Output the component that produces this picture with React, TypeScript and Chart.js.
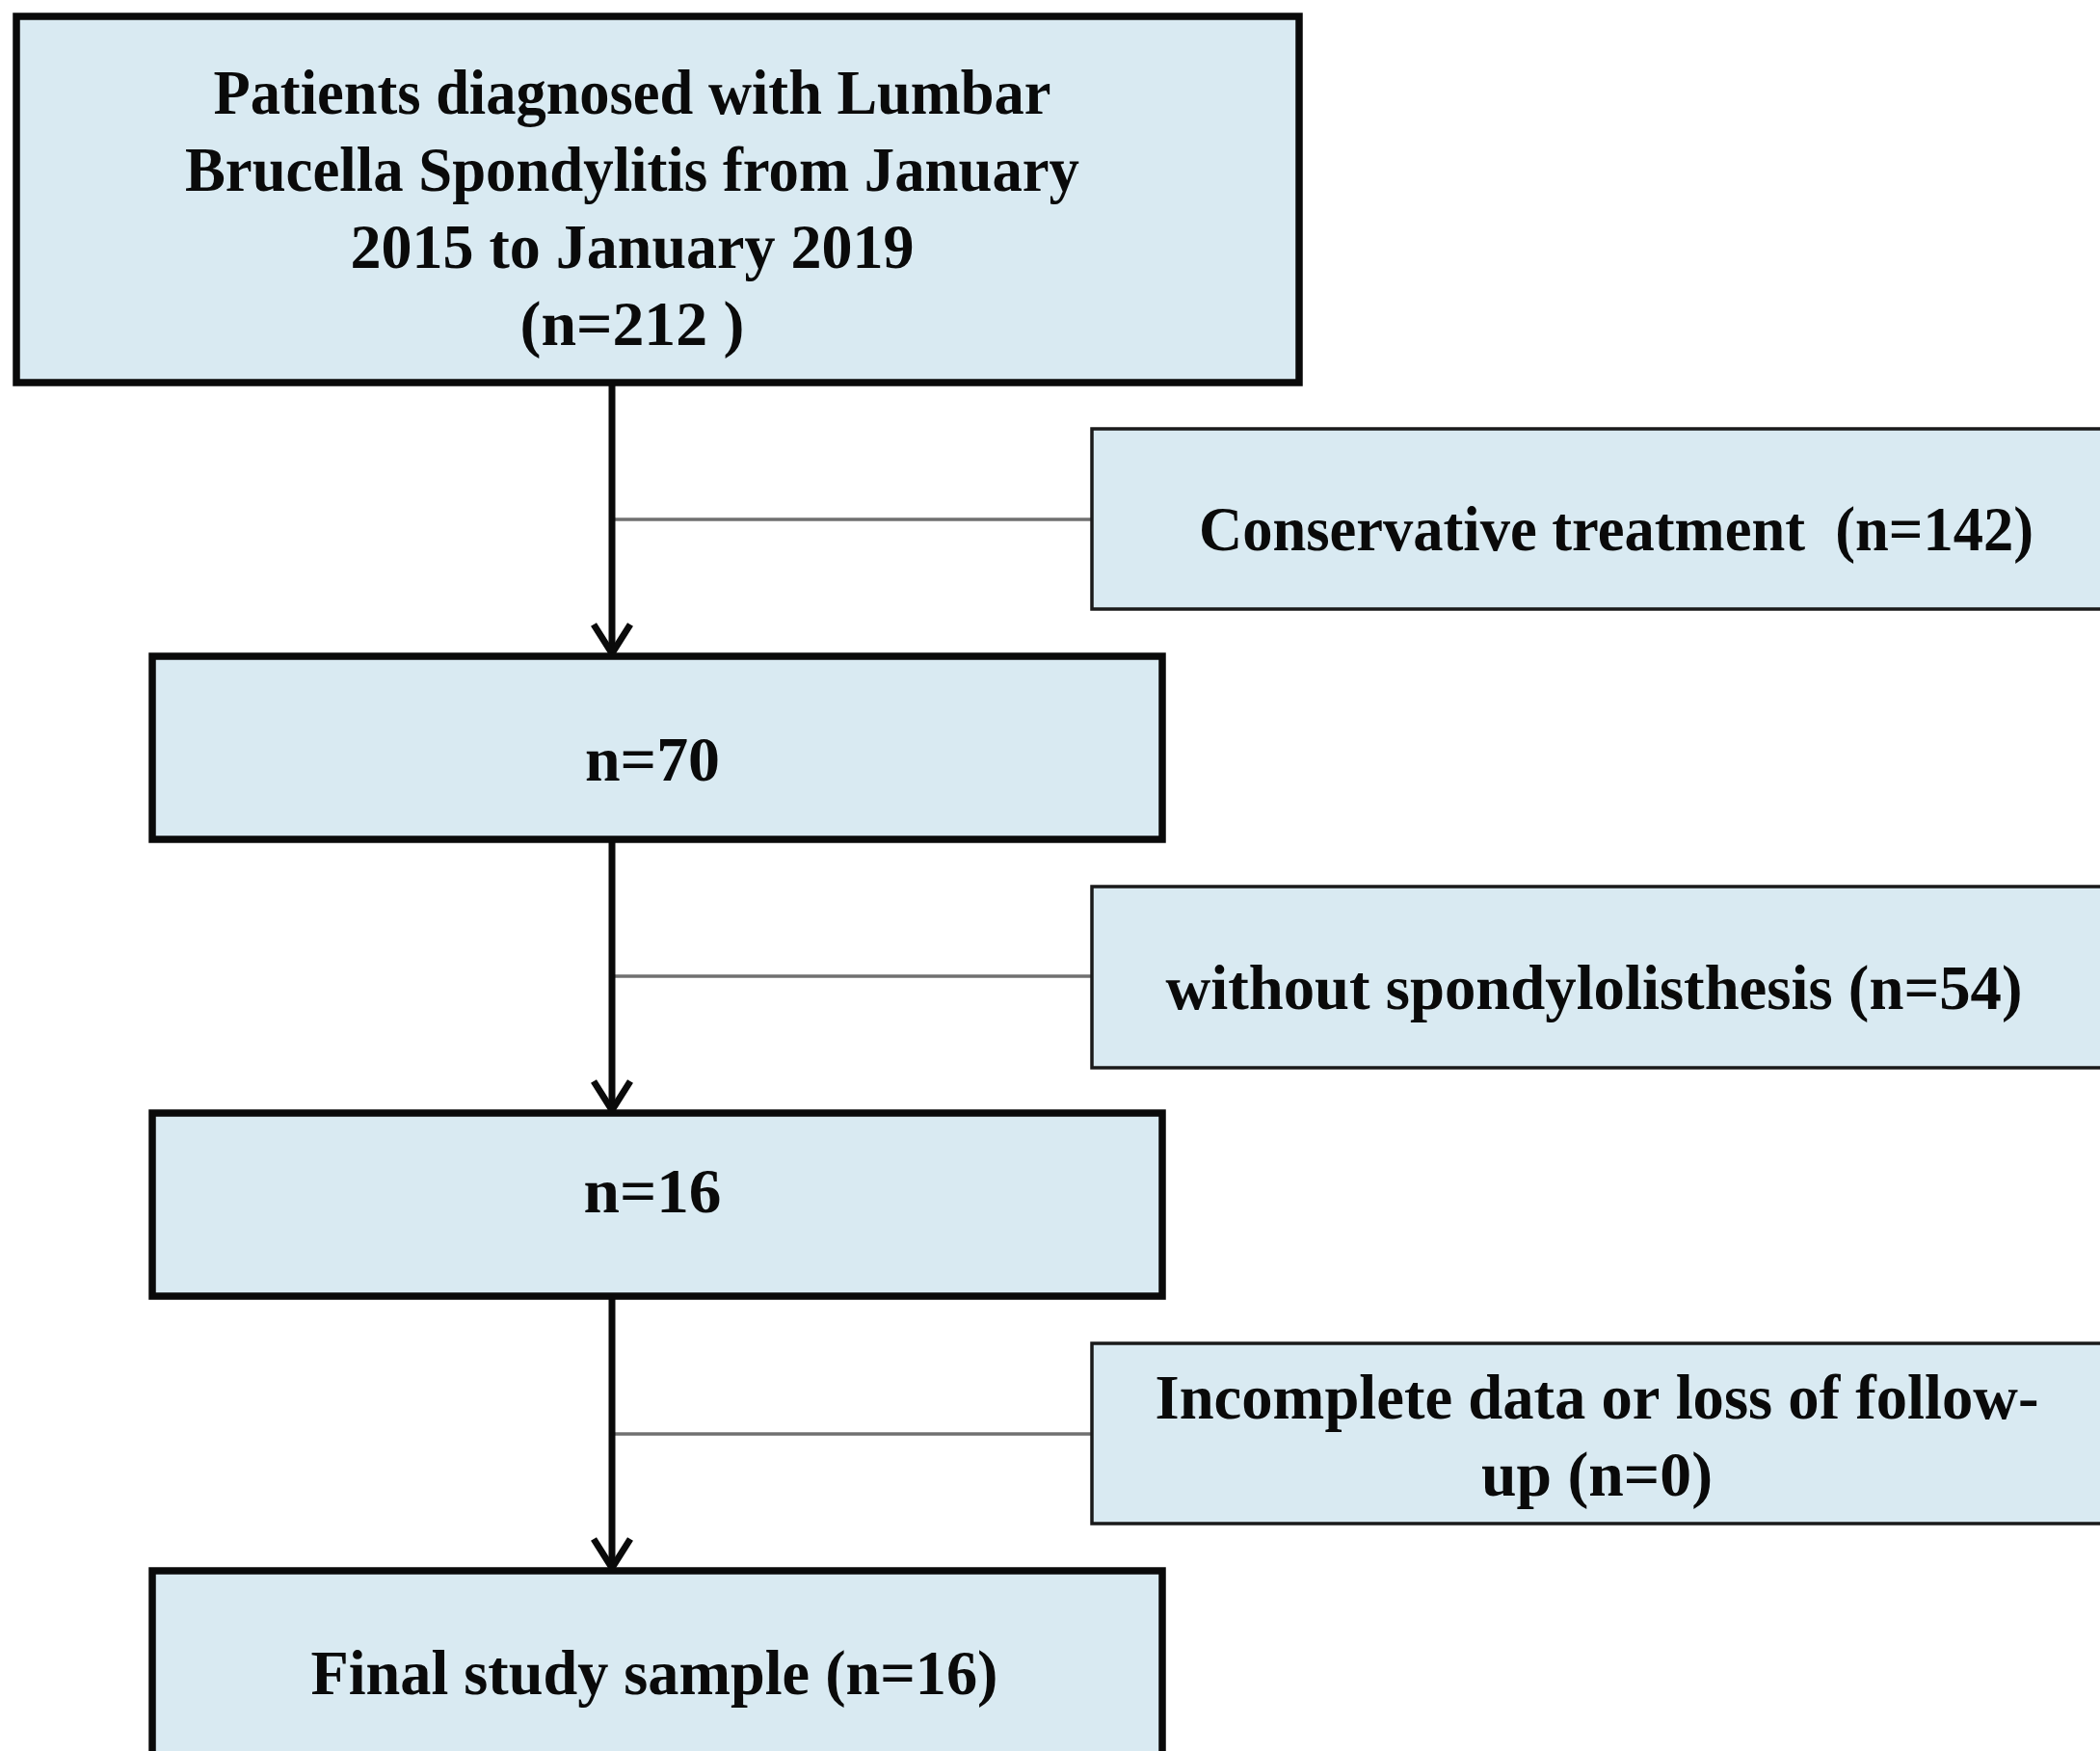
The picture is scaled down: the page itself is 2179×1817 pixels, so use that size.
import React, { useEffect, useRef } from "react";
import { Chart, registerables } from "chart.js";

Chart.register(...registerables);

// ---- Flow content (data) ----
const stageLabels: string[][] = [
  ["Patients diagnosed with Lumbar", "Brucella Spondylitis from January", "2015 to January 2019", "(n=212 )"],
  ["n=70"],
  ["n=16"],
  ["Final study sample (n=16)"],
];
const stageCounts = [212, 70, 16, 16];
const exclusionLabels: string[][] = [
  ["Conservative treatment  (n=142)"],
  ["without spondylolisthesis (n=54)"],
  ["Incomplete data or loss of follow-", "up (n=0)"],
];
const exclusionCounts = [142, 54, 0];

// ---- Layout (reference frame units) ----
const W = 2179;
const H = 1817;
const FONT = "bold 66px 'Liberation Serif', 'Times New Roman', serif";
const stageBoxes = [
  { x0: 17, x1: 1348, y0: 17, y1: 397 },
  { x0: 158, x1: 1206, y0: 681, y1: 871 },
  { x0: 158, x1: 1206, y0: 1155, y1: 1345 },
  { x0: 158, x1: 1206, y0: 1630, y1: 1821 },
];
const stageTextX = [656, 677, 677, 679];
const stageBaselines = [[118, 198, 278, 358], [810], [1258], [1758]];
const stageTextW = [[869, 928, 585, 233], [140], [143], [713]];
const exclusionBoxes = [
  { x0: 1133, x1: 2190, y0: 445, y1: 632 },
  { x0: 1133, x1: 2190, y0: 920, y1: 1108 },
  { x0: 1133, x1: 2190, y0: 1394, y1: 1581 },
];
const exclusionTextX = [1677, 1654, 1657];
const exclusionBaselines = [[571], [1047], [1472, 1552]];
const exclusionTextW = [[866, 889], [889], [917, 240]];
const spineX = 635;
const branchY = [539, 1013, 1488];

const FILL = "#d9eaf2";

const flowPlugin = {
  id: "flow",
  afterDatasetsDraw(chart: any) {
    const { ctx } = chart;
    const sx = chart.scales.x;
    const sy = chart.scales.y;
    const px = (v: number) => sx.getPixelForValue(v);
    const py = (v: number) => sy.getPixelForValue(v);

    ctx.save();
    ctx.fillStyle = "#ffffff";
    ctx.fillRect(0, 0, chart.width, chart.height);

    // branch connectors (gray, thin)
    ctx.strokeStyle = "#707070";
    ctx.lineWidth = 3.5;
    branchY.forEach((b, i) => {
      ctx.beginPath();
      ctx.moveTo(px(spineX), py(b));
      ctx.lineTo(px(exclusionBoxes[i].x0), py(b));
      ctx.stroke();
    });

    // vertical arrows
    ctx.strokeStyle = "#0a0a0a";
    ctx.lineWidth = 7;
    ctx.lineJoin = "miter";
    for (let i = 0; i < stageBoxes.length - 1; i++) {
      const top = stageBoxes[i].y1;
      const tip = stageBoxes[i + 1].y0 - 3;
      ctx.beginPath();
      ctx.moveTo(px(spineX), py(top));
      ctx.lineTo(px(spineX), py(tip));
      ctx.stroke();
      ctx.beginPath();
      ctx.moveTo(px(spineX - 19), py(tip - 30));
      ctx.lineTo(px(spineX), py(tip));
      ctx.lineTo(px(spineX + 19), py(tip - 30));
      ctx.stroke();
    }

    const drawText = (lines: string[], cx: number, bases: number[], widths: number[]) => {
      ctx.fillStyle = "#0a0a0a";
      ctx.font = FONT;
      ctx.textAlign = "center";
      ctx.textBaseline = "alphabetic";
      lines.forEach((t, j) => {
        const natural = ctx.measureText(t).width;
        const target = widths[j] ?? natural;
        const k = natural > 0 ? target / natural : 1;
        ctx.save();
        ctx.translate(px(cx), py(bases[j]));
        ctx.scale(k, 1);
        ctx.fillText(t, 0, 0);
        ctx.restore();
      });
    };

    // exclusion boxes
    exclusionBoxes.forEach((b, i) => {
      ctx.fillStyle = FILL;
      ctx.fillRect(px(b.x0), py(b.y0), px(b.x1) - px(b.x0), py(b.y1) - py(b.y0));
      ctx.strokeStyle = "#1a1a1a";
      ctx.lineWidth = 3.5;
      ctx.strokeRect(px(b.x0), py(b.y0), px(b.x1) - px(b.x0), py(b.y1) - py(b.y0));
      drawText(exclusionLabels[i], exclusionTextX[i], exclusionBaselines[i], exclusionTextW[i]);
    });

    // stage boxes
    stageBoxes.forEach((b, i) => {
      ctx.fillStyle = FILL;
      ctx.fillRect(px(b.x0), py(b.y0), px(b.x1) - px(b.x0), py(b.y1) - py(b.y0));
      ctx.strokeStyle = "#0a0a0a";
      ctx.lineWidth = 7.5;
      ctx.lineJoin = "miter";
      ctx.strokeRect(px(b.x0), py(b.y0), px(b.x1) - px(b.x0), py(b.y1) - py(b.y0));
      drawText(stageLabels[i], stageTextX[i], stageBaselines[i], stageTextW[i]);
    });
    ctx.restore();
  },
};

export default function App() {
  const ref = useRef<HTMLCanvasElement | null>(null);
  useEffect(() => {
    document.body.style.margin = "0";
    document.body.style.overflow = "hidden";
    const chart = new Chart(ref.current as HTMLCanvasElement, {
      type: "scatter",
      data: {
        datasets: [
          { label: "stages", data: stageCounts.map(() => null) as any, pointRadius: 0 },
          { label: "exclusions", data: exclusionCounts.map(() => null) as any, pointRadius: 0 },
        ],
      },
      options: {
        responsive: false,
        maintainAspectRatio: false,
        animation: false,
        devicePixelRatio: 1,
        layout: { padding: 0 },
        plugins: { legend: { display: false }, tooltip: { enabled: false } },
        scales: {
          x: { type: "linear", min: 0, max: W, display: false },
          y: { type: "linear", min: 0, max: H, reverse: true, display: false },
        },
      },
      plugins: [flowPlugin],
    });
    return () => chart.destroy();
  }, []);
  return <canvas ref={ref} width={W} height={H} style={{ display: "block", width: W, height: H }} />;
}
